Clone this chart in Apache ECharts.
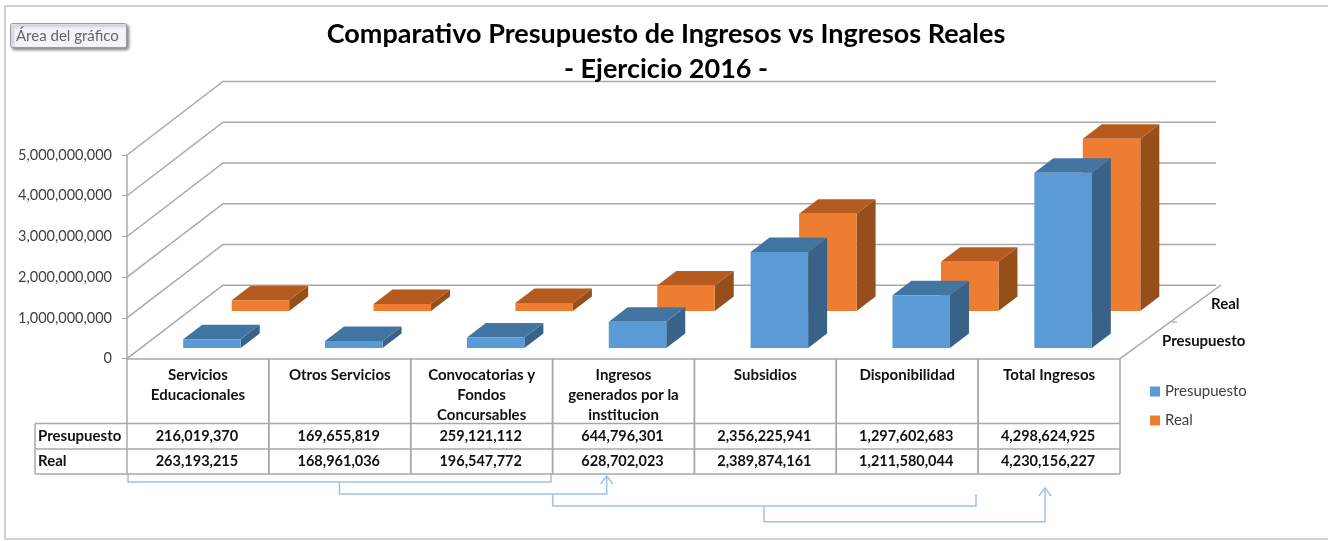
<!DOCTYPE html>
<html>
<head>
<meta charset="utf-8">
<script src="https://cdn.jsdelivr.net/npm/echarts@6/dist/echarts.min.js"></script>
<style>
    html, body { margin: 0; padding: 0; background: #fff; }
    #chart { width: 1328px; height: 541px; }
</style>
</head>
<body>
<div id="chart"></div>
<script>
const categories = ["Servicios\nEducacionales", "Otros Servicios", "Convocatorias y\nFondos\nConcursables", "Ingresos\ngenerados por la\ninstitucion", "Subsidios", "Disponibilidad", "Total Ingresos"];
const presupuesto = [216019370, 169655819, 259121112, 644796301, 2356225941, 1297602683, 4298624925];
const real = [263193215, 168961036, 196547772, 628702023, 2389874161, 1211580044, 4230156227];
const yTicks = [0, 1000000000, 2000000000, 3000000000, 4000000000, 5000000000];
const rowLabels = ["Presupuesto", "Real"];

const FONT = "Lato, 'Open Sans', sans-serif";
const LINE = "#a8a8a8";
const ARROW = "#9cc3e6";
const DEPTH = [96, -73.5]; // front plane -> back wall
const BAR_WIDTH = 57.5;
const BAR_DEPTH = [19, -14.5];
const ROW_PRESUPUESTO = [14, -10.7];
const ROW_REAL = [62.5, -47.7];

const fmt = n => n.toLocaleString("en-US");

// one pseudo 3D bar: front, top and side faces
const barItem = (row, front, top, side) => (params, api) => {
    const i = api.value(0);
    const base = api.coord([i, 0]);
    const head = api.coord([i, api.value(1)]);
    const x0 = base[0] + row[0] - BAR_WIDTH / 2;
    const x1 = x0 + BAR_WIDTH;
    const y0 = base[1] + row[1];
    const y1 = head[1] + row[1];
    const [dx, dy] = BAR_DEPTH;
    const face = (points, fill) => ({type: "polygon", shape: {points}, style: {fill}});
    return {
        type: "group",
        children: [
            face([[x1, y0], [x1 + dx, y0 + dy], [x1 + dx, y1 + dy], [x1, y1]], side),
            face([[x0, y1], [x1, y1], [x1 + dx, y1 + dy], [x0 + dx, y1 + dy]], top),
            face([[x0, y0], [x1, y0], [x1, y1], [x0, y1]], front),
        ],
    };
};

// gridline on side wall and back wall for each y tick
const wallItem = (params, api) => {
    const y = api.coord([0, api.value(0)])[1];
    const band = api.size([1, 0])[0];
    const left = api.coord([0, 0])[0] - band / 2;
    const right = left + band * categories.length;
    return {
        type: "polyline",
        shape: {points: [[left, y], [left + DEPTH[0], y + DEPTH[1]], [right + DEPTH[0], y + DEPTH[1]]]},
        style: {stroke: LINE, lineWidth: 1.5, fill: null},
    };
};

// data table under the plot, one column per category
const tableItem = (params, api) => {
    const i = api.value(0);
    const c = api.coord([i, 0]);
    const band = api.size([1, 0])[0];
    const edge = c[0] - band / 2;
    const text = (str, x, y, align = "center", size = 14.5) => ({
        type: "text",
        style: {text: str, x, y, align, verticalAlign: "middle", font: "bold " + size + "px " + FONT, fill: "#111"},
    });
    const line = (x1, y1, x2, y2) => ({
        type: "line",
        shape: {x1, y1, x2, y2},
        style: {stroke: LINE, lineWidth: 1.5},
    });
    const rowA = 423.5, rowB = 449, rowC = 474;
    const children = [
        line(edge, c[1], edge, rowC),
        line(edge + band, c[1], edge + band, rowC),
        text(fmt(api.value(1)), c[0] - 1, 436),
        text(fmt(api.value(2)), c[0] - 1, 461),
    ];
    if (i === 0) {
        const right = edge + band * categories.length;
        children.push(
            line(35, rowA, right, rowA),
            line(35, rowB, right, rowB),
            line(35, rowC, right, rowC),
            line(35, rowA, 35, rowC),
            text(rowLabels[0], 38, 436, "left", 15),
            text(rowLabels[1], 38, 461, "left", 15),
        );
    }
    return {type: "group", children};
};

const arrow = points => ({
    type: "polyline",
    silent: true,
    shape: {points},
    style: {stroke: ARROW, lineWidth: 1.5, fill: null},
});

const chart = echarts.init(document.getElementById("chart"));
chart.setOption({
    animation: false,
    backgroundColor: "#fff",
    textStyle: {fontFamily: FONT},
    title: {
        text: "Comparativo Presupuesto de Ingresos vs Ingresos Reales\n- Ejercicio 2016 -",
        left: 661,
        top: 12,
        textAlign: "center",
        textStyle: {fontFamily: FONT, fontSize: 27, fontWeight: "bold", color: "#000", lineHeight: 35},
    },
    legend: {
        data: rowLabels,
        orient: "vertical",
        left: 1145,
        top: 379,
        itemWidth: 10,
        itemHeight: 10,
        itemGap: 14,
        icon: "rect",
        textStyle: {fontFamily: FONT, fontSize: 15, color: "#404040"},
    },
    grid: {left: 127, right: 208, top: 155, bottom: 182.3},
    xAxis: {
        type: "category",
        data: categories,
        axisTick: {show: false},
        axisLine: {lineStyle: {color: LINE, width: 1.5}},
        axisLabel: {
            interval: 0,
            margin: 6,
            lineHeight: 20,
            verticalAlign: "top",
            fontFamily: FONT,
            fontSize: 15,
            fontWeight: "bold",
            color: "#111",
        },
    },
    yAxis: {
        type: "value",
        min: 0,
        max: 5000000000,
        interval: 1000000000,
        splitLine: {show: false},
        axisLine: {show: true, lineStyle: {color: LINE, width: 1.5}},
        axisTick: {show: true, length: 5, lineStyle: {color: LINE}},
        axisLabel: {margin: 15, fontFamily: FONT, fontSize: 14.5, color: "#404040", formatter: v => fmt(v)},
    },
    series: [
        {
            type: "custom",
            name: "paredes",
            silent: true,
            renderItem: wallItem,
            encode: {y: 0},
            data: yTicks.map(v => [v]),
            z: 1,
        },
        {
            type: "custom",
            name: "tabla",
            silent: true,
            renderItem: tableItem,
            data: categories.map((c, i) => [i, presupuesto[i], real[i]]),
            z: 1,
        },
        {
            type: "custom",
            name: "Real",
            itemStyle: {color: "#ed7d31"},
            renderItem: barItem(ROW_REAL, "#ed7d31", "#b55b1f", "#964f1a"),
            data: real.map((v, i) => [i, v]),
            z: 2,
        },
        {
            type: "custom",
            name: "Presupuesto",
            itemStyle: {color: "#5b9bd5"},
            renderItem: barItem(ROW_PRESUPUESTO, "#5b9bd5", "#4375a2", "#386287"),
            data: presupuesto.map((v, i) => [i, v]),
            z: 3,
        },
    ],
    graphic: [
        // outer frame, runs off the right edge of the picture
        {type: "rect", z: -1, silent: true, shape: {x: 5, y: 6, width: 1330, height: 533}, style: {fill: "#fff", stroke: "#c4c4c4", lineWidth: 1.5}},
        // "Area del grafico" hover tag
        {
            type: "rect",
            silent: true,
            shape: {x: 10.5, y: 23.5, width: 116, height: 24, r: 2},
            style: {fill: "#f3f3f8", stroke: "#9a9aa4", lineWidth: 1, shadowBlur: 3, shadowOffsetX: 2, shadowOffsetY: 2, shadowColor: "rgba(0,0,0,0.45)"},
        },
        {type: "text", silent: true, style: {text: "Área del gráfico", x: 16, y: 36, verticalAlign: "middle", font: "15px " + FONT, fill: "#666"}},
        // depth axis
        {type: "polyline", silent: true, shape: {points: [[1120, 358.7], [1221, 285]]}, style: {stroke: LINE, lineWidth: 1.5, fill: null}},
        {type: "line", silent: true, shape: {x1: 1172, y1: 322, x2: 1177, y2: 322}, style: {stroke: LINE, lineWidth: 1.2}},
        {type: "text", silent: true, style: {text: "Real", x: 1211, y: 304, verticalAlign: "middle", font: "bold 15px " + FONT, fill: "#111"}},
        {type: "text", silent: true, style: {text: "Presupuesto", x: 1162, y: 341, verticalAlign: "middle", font: "bold 15px " + FONT, fill: "#111"}},
        // hand drawn brackets under the table
        arrow([[128, 474], [128, 482], [551, 482], [551, 474]]),
        arrow([[339.5, 482], [339.5, 494], [606.7, 494], [606.7, 476]]),
        arrow([[600.5, 484], [606.7, 476], [612.9, 484]]),
        arrow([[552.7, 494], [552.7, 506], [976, 506], [976, 494]]),
        arrow([[764, 506], [764, 521.7], [1045, 521.7], [1045, 488]]),
        arrow([[1038.8, 496], [1045, 488], [1051.2, 496]]),
    ],
});
</script>
</body>
</html>
